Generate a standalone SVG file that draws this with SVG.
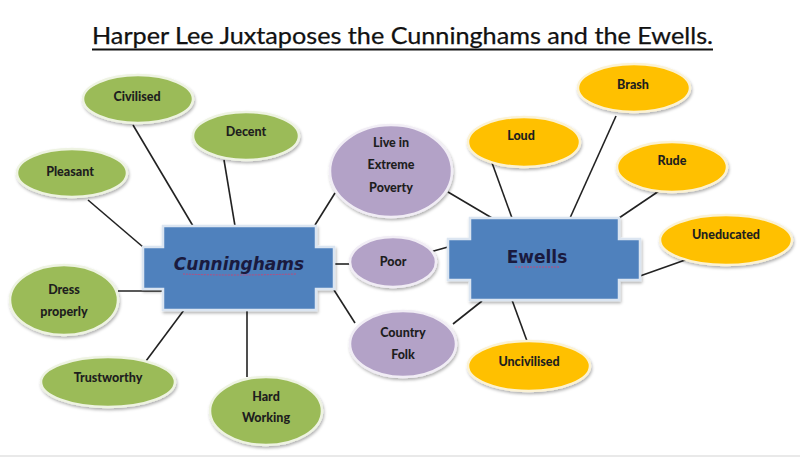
<svg xmlns="http://www.w3.org/2000/svg" width="800" height="461" viewBox="0 0 800 461">
<defs>
<filter id="sh" x="-20%" y="-20%" width="140%" height="150%">
<feDropShadow dx="1" dy="2" stdDeviation="1.5" flood-color="#000" flood-opacity="0.3"/>
</filter>
<style>
.t{font-family:Lato,"Open Sans",sans-serif;font-weight:900;font-size:12.5px;fill:#1e1e1e;text-anchor:middle}
.g{fill:#9bbb59;stroke:#eef3e2;stroke-width:2.5;filter:url(#sh)}
.p{fill:#b3a2c7;stroke:#f1edf5;stroke-width:2.5;filter:url(#sh)}
.o{fill:#ffc000;stroke:#fbf2d4;stroke-width:2.5;filter:url(#sh)}
.b{fill:#4f81bd;stroke:#dbe5f1;stroke-width:2.5;filter:url(#sh)}
.c line{stroke:#222;stroke-width:1.6}
.h{font-family:"Comic Sans MS","DejaVu Sans",sans-serif;font-weight:bold;font-size:17px;fill:#1a1a3e;text-anchor:middle}
</style>
</defs>
<rect width="800" height="461" fill="#fff"/>
<line x1="0" y1="456" x2="800" y2="456" stroke="#e2e2e2" stroke-width="1.5"/>
<g id="title">
<text x="92" y="44" font-family="Lato,'Open Sans',sans-serif" font-size="23" fill="#111" stroke="#111" stroke-width="0.25" textLength="621" lengthAdjust="spacingAndGlyphs">Harper Lee Juxtaposes the Cunninghams and the Ewells.</text>
<line x1="92" y1="49.5" x2="713" y2="49.5" stroke="#111" stroke-width="2"/>
</g>
<g id="connectors" class="c">
<line x1="133" y1="125" x2="193" y2="226"/>
<line x1="224" y1="160" x2="235" y2="226"/>
<line x1="88" y1="200" x2="143" y2="247"/>
<line x1="118" y1="291" x2="165" y2="291"/>
<line x1="146" y1="361" x2="184" y2="310"/>
<line x1="247" y1="310" x2="247" y2="377"/>
<line x1="315" y1="225" x2="335" y2="193"/>
<line x1="448" y1="192" x2="492" y2="218"/>
<line x1="334" y1="264" x2="350" y2="264"/>
<line x1="430" y1="252" x2="448" y2="247"/>
<line x1="334" y1="290" x2="355" y2="323"/>
<line x1="453" y1="324" x2="482" y2="301"/>
<line x1="491" y1="160" x2="512" y2="218"/>
<line x1="616" y1="116" x2="570" y2="218"/>
<line x1="659" y1="191" x2="619" y2="218"/>
<line x1="688" y1="259" x2="640" y2="276"/>
<line x1="512" y1="300" x2="527" y2="341"/>
</g>
<g id="cunninghams">
<path class="b" d="M163 226H316V247H334V289H316V310H163V289H143V247H163Z"/>
<text class="h" x="239" y="270" font-style="italic">Cunninghams</text>
<path d="M183 274Q230 276 296 274" stroke="#c04a7a" stroke-width="1" fill="none" stroke-dasharray="2 1"/>
</g>
<g id="ewells">
<path class="b" d="M470 218H619V239H640V280H619V300H470V280H448V239H470Z"/>
<text class="h" x="537" y="263">Ewells</text>
<path d="M515 267H560" stroke="#c04a7a" stroke-width="1" fill="none" stroke-dasharray="2 1"/>
</g>
<g id="civilised"><ellipse class="g" cx="138" cy="99" rx="55" ry="24"/><text class="t" x="137" y="101">Civilised</text></g>
<g id="decent"><ellipse class="g" cx="246" cy="136" rx="53" ry="24"/><text class="t" x="246" y="136">Decent</text></g>
<g id="pleasant"><ellipse class="g" cx="72" cy="173" rx="55" ry="24"/><text class="t" x="70" y="176">Pleasant</text></g>
<g id="dress"><ellipse class="g" cx="64" cy="300" rx="54" ry="35"/><text class="t" x="64" y="294">Dress</text><text class="t" x="64" y="316">properly</text></g>
<g id="trustworthy"><ellipse class="g" cx="108" cy="382" rx="67" ry="25"/><text class="t" x="108" y="382">Trustworthy</text></g>
<g id="hardworking"><ellipse class="g" cx="266" cy="411" rx="56" ry="34"/><text class="t" x="266" y="401">Hard</text><text class="t" x="266" y="422">Working</text></g>
<g id="poverty"><ellipse class="p" cx="391" cy="171" rx="61" ry="46"/><text class="t" x="391" y="147">Live in</text><text class="t" x="391" y="169">Extreme</text><text class="t" x="391" y="192">Poverty</text></g>
<g id="poor"><ellipse class="p" cx="393" cy="262" rx="43" ry="25"/><text class="t" x="393" y="266">Poor</text></g>
<g id="country"><ellipse class="p" cx="403" cy="344" rx="53" ry="33"/><text class="t" x="403" y="337">Country</text><text class="t" x="403" y="359">Folk</text></g>
<g id="brash"><ellipse class="o" cx="634" cy="88" rx="56" ry="24"/><text class="t" x="633" y="89">Brash</text></g>
<g id="loud"><ellipse class="o" cx="524" cy="142" rx="56" ry="25"/><text class="t" x="521" y="140">Loud</text></g>
<g id="rude"><ellipse class="o" cx="672" cy="167" rx="55" ry="25"/><text class="t" x="672" y="165">Rude</text></g>
<g id="uneducated"><ellipse class="o" cx="726" cy="240" rx="66" ry="25"/><text class="t" x="726" y="239">Uneducated</text></g>
<g id="uncivilised"><ellipse class="o" cx="529" cy="366" rx="61" ry="25"/><text class="t" x="529" y="366">Uncivilised</text></g>
</svg>
